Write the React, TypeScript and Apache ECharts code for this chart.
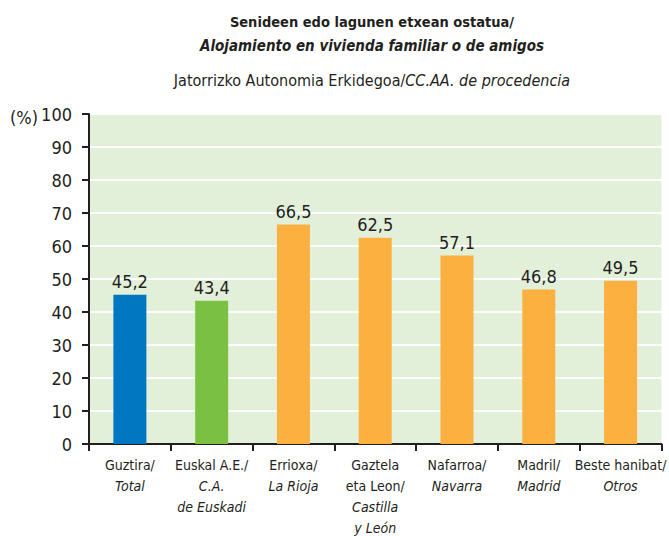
import React, { useEffect, useRef } from "react";
import * as echarts from "echarts";

const catEu = ["Guztira/", "Euskal A.E./", "Errioxa/", "Gaztela\neta Leon/", "Nafarroa/", "Madril/", "Beste hanibat/"];
const catEs = ["Total", "C.A.\nde Euskadi", "La Rioja", "Castilla\ny León", "Navarra", "Madrid", "Otros"];
const values = [45.2, 43.4, 66.5, 62.5, 57.1, 46.8, 49.5];
const barColors = ["#0077C0", "#7AC143", "#FBB040", "#FBB040", "#FBB040", "#FBB040", "#FBB040"];

const FONT = '"DejaVu Sans Condensed", "Liberation Sans Narrow", sans-serif';

export default function App() {
  const ref = useRef<HTMLDivElement>(null);
  useEffect(() => {
    if (!ref.current) return;
    const chart = echarts.init(ref.current, undefined, { renderer: "svg" });
    const labels = catEu.map((eu, i) => {
      const euPart = eu.split("\n").map((l) => `{n|${l}}`).join("\n");
      const esPart = catEs[i].split("\n").map((l) => `{i|${l}}`).join("\n");
      return euPart + "\n" + esPart;
    });
    chart.setOption({
      animation: false,
      textStyle: { fontFamily: FONT },
      grid: {
        left: 89,
        top: 114,
        bottom: 92,
        right: 2,
        show: true,
        backgroundColor: "#E2EFD9",
        borderWidth: 0,
      },
      xAxis: {
        type: "category",
        data: labels,
        axisLine: { show: true, lineStyle: { color: "#231F20", width: 2 } },
        axisTick: { show: true, length: 7, lineStyle: { color: "#231F20", width: 2 } },
        axisLabel: {
          interval: 0,
          margin: 10,
          color: "#231F20",
          fontFamily: FONT,
          fontSize: 14,
          rich: {
            n: { fontFamily: FONT, fontSize: 14, lineHeight: 21, color: "#231F20" },
            i: { fontFamily: FONT, fontSize: 14, lineHeight: 21, fontStyle: "italic", color: "#231F20" },
          },
        },
      },
      yAxis: {
        type: "value",
        min: 0,
        max: 100,
        interval: 10,
        axisLine: { show: true, lineStyle: { color: "#231F20", width: 2 } },
        axisTick: { show: true, length: 7, lineStyle: { color: "#231F20", width: 2 } },
        splitLine: { show: true, lineStyle: { color: "#FFFFFF", width: 2 } },
        axisLabel: {
          margin: 17,
          color: "#231F20",
          fontFamily: FONT,
          fontSize: 18,
        },
      },
      series: [
        {
          type: "bar",
          barWidth: 33,
          data: values.map((v, i) => ({ value: v, itemStyle: { color: barColors[i] } })),
          label: {
            show: true,
            position: "top",
            distance: 4,
            color: "#231F20",
            fontFamily: FONT,
            fontSize: 18,
            formatter: (p: any) => String(p.value).replace(".", ","),
          },
        },
      ],
      graphic: [
        {
          type: "text",
          x: 372,
          y: 22,
          style: {
            text: "Senideen edo lagunen etxean ostatua/",
            textAlign: "center",
            textVerticalAlign: "middle",
            font: `bold 14.5px ${FONT}`,
            fill: "#231F20",
          },
        },
        {
          type: "text",
          x: 372,
          y: 46,
          style: {
            text: "Alojamiento en vivienda familiar o de amigos",
            textAlign: "center",
            textVerticalAlign: "middle",
            font: `italic bold 15px ${FONT}`,
            fill: "#231F20",
          },
        },
        {
          type: "text",
          x: 372,
          y: 80,
          style: {
            text: "{n|Jatorrizko Autonomia Erkidegoa/}{i|CC.AA. de procedencia}",
            textAlign: "center",
            textVerticalAlign: "middle",
            fill: "#231F20",
            rich: {
              n: { fontFamily: FONT, fontSize: 16, fill: "#231F20" },
              i: { fontFamily: FONT, fontSize: 16, fontStyle: "italic", fill: "#231F20" },
            },
          },
        },
        {
          type: "text",
          x: 10,
          y: 117,
          style: {
            text: "(%)",
            textAlign: "left",
            textVerticalAlign: "middle",
            font: `18px ${FONT}`,
            fill: "#231F20",
          },
        },
      ],
    });
    return () => chart.dispose();
  }, []);
  return <div ref={ref} style={{ position: "absolute", left: 0, top: 0, width: 669, height: 536 }} />;
}
